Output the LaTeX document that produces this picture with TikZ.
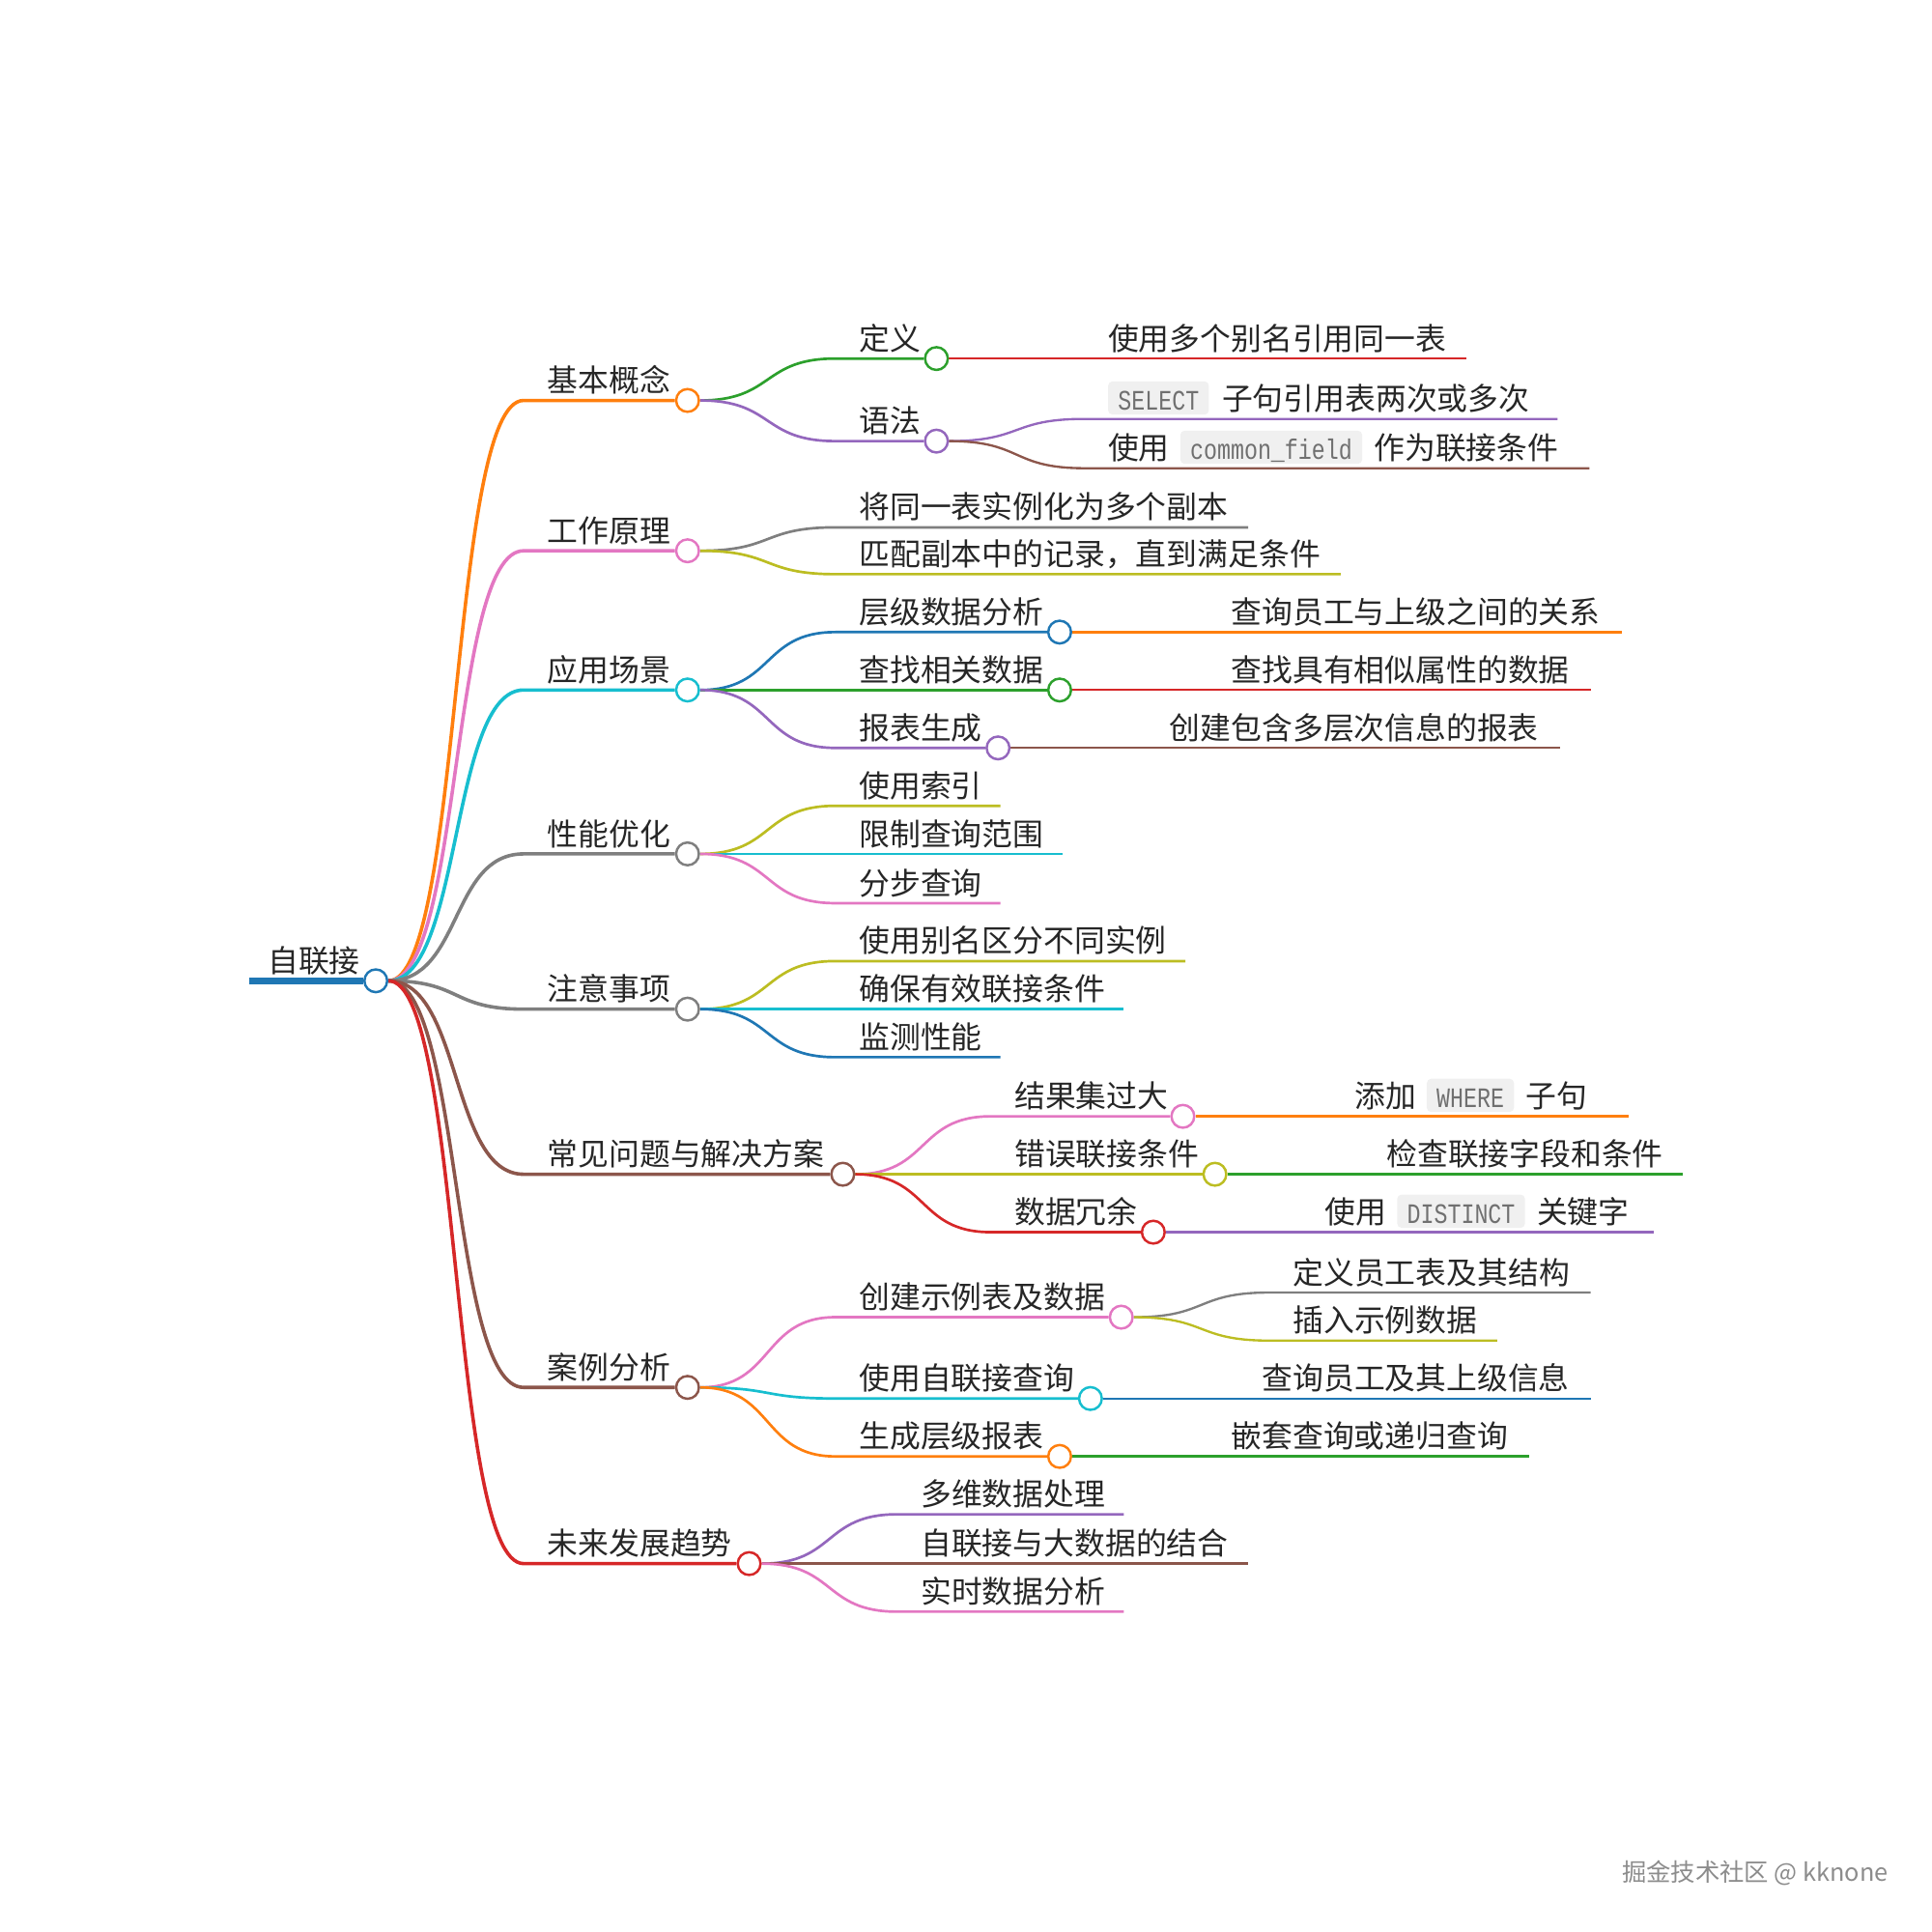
\documentclass[tikz,border=0pt]{standalone}
\usepackage{fontspec}
\setmainfont{Noto Sans CJK SC}
\newfontfamily\codefont[FakeStretch=0.8]{Liberation Mono}
\usetikzlibrary{positioning,backgrounds}
\definecolor{mBlue}{HTML}{1F77B4}
\definecolor{mOrange}{HTML}{FF7F0E}
\definecolor{mGreen}{HTML}{2CA02C}
\definecolor{mRed}{HTML}{D62728}
\definecolor{mPurple}{HTML}{9467BD}
\definecolor{mBrown}{HTML}{8C564B}
\definecolor{mPink}{HTML}{E377C2}
\definecolor{mGray}{HTML}{7F7F7F}
\definecolor{mOlive}{HTML}{BCBD22}
\definecolor{mCyan}{HTML}{17BECF}
\definecolor{codebg}{HTML}{F0F0F0}
\definecolor{codetext}{HTML}{707070}
\newcommand{\mmfont}{\fontsize{14.2pt}{17pt}\selectfont}
\newcommand{\cdfont}{\codefont\fontsize{13pt}{15pt}\selectfont}
\tikzset{
  lbl/.style={inner sep=0pt,anchor=base west,font=\mmfont,text=black!85},
  codebox/.style={anchor=base west,inner xsep=0.16cm,inner ysep=0.07cm,text height=0.40cm,
                  text depth=0cm,fill=codebg,rounded corners=2pt,text=codetext,font=\cdfont},
  mmdot/.style={circle,draw=#1,fill=white,line width=1.1pt,inner sep=0pt,minimum size=0.37cm},
  lvzero/.style={line width=2.9pt},
  lvone/.style={line width=1.6pt},
  lvtwo/.style={line width=1.2pt},
  lvthree/.style={line width=1.05pt}
}

\begin{document}
\begin{tikzpicture}[x=0.02cm,y=-0.02cm]
    \useasboundingbox (0,0) rectangle (1568,1568);
    \coordinate (zl-s) at (202,796);
    \node[lbl] (zl) at (217,789) {自联接};
    \node[mmdot=mBlue] (zl-c) at (305,796) {};
    % level 1
    \coordinate (jb-s) at (425,325); \node[lbl] (jb) at (444,318) {基本概念}; \node[mmdot=mOrange] (jb-c) at (558,325) {};
    \coordinate (gz-s) at (425,447); \node[lbl] (gz) at (444,440) {工作原理}; \node[mmdot=mPink] (gz-c) at (558,447) {};
    \coordinate (yy-s) at (425,560); \node[lbl] (yy) at (444,553) {应用场景}; \node[mmdot=mCyan] (yy-c) at (558,560) {};
    \coordinate (xn-s) at (425,693); \node[lbl] (xn) at (444,686) {性能优化}; \node[mmdot=mGray] (xn-c) at (558,693) {};
    \coordinate (zy-s) at (425,819); \node[lbl] (zy) at (444,812) {注意事项}; \node[mmdot=mGray] (zy-c) at (558,819) {};
    \coordinate (cj-s) at (425,953); \node[lbl] (cj) at (444,946) {常见问题与解决方案}; \node[mmdot=mBrown] (cj-c) at (684,953) {};
    \coordinate (al-s) at (425,1126); \node[lbl] (al) at (444,1119) {案例分析}; \node[mmdot=mBrown] (al-c) at (558,1126) {};
    \coordinate (wl-s) at (425,1269); \node[lbl] (wl) at (444,1262) {未来发展趋势}; \node[mmdot=mRed] (wl-c) at (608,1269) {};
    % level 2
    \coordinate (dy-s) at (678,291); \node[lbl] (dy) at (697,284) {定义}; \node[mmdot=mGreen] (dy-c) at (760,291) {};
    \coordinate (yf-s) at (678,358); \node[lbl] (yf) at (697,351) {语法}; \node[mmdot=mPurple] (yf-c) at (760,358) {};
    \coordinate (gz1-s) at (678,428); \node[lbl] (gz1) at (697,421) {将同一表实例化为多个副本}; \coordinate (gz1-e) at (1013,428);
    \coordinate (gz2-s) at (678,466); \node[lbl] (gz2) at (697,459) {匹配副本中的记录，直到满足条件}; \coordinate (gz2-e) at (1088,466);
    \coordinate (yy1-s) at (678,513); \node[lbl] (yy1) at (697,506) {层级数据分析}; \node[mmdot=mBlue] (yy1-c) at (860,513) {};
    \coordinate (yy2-s) at (678,560); \node[lbl] (yy2) at (697,553) {查找相关数据}; \node[mmdot=mGreen] (yy2-c) at (860,560) {};
    \coordinate (yy3-s) at (678,607); \node[lbl] (yy3) at (697,600) {报表生成}; \node[mmdot=mPurple] (yy3-c) at (810,607) {};
    \coordinate (xn1-s) at (678,654); \node[lbl] (xn1) at (697,647) {使用索引}; \coordinate (xn1-e) at (812,654);
    \coordinate (xn2-s) at (678,693); \node[lbl] (xn2) at (697,686) {限制查询范围}; \coordinate (xn2-e) at (862,693);
    \coordinate (xn3-s) at (678,733); \node[lbl] (xn3) at (697,726) {分步查询}; \coordinate (xn3-e) at (812,733);
    \coordinate (zy1-s) at (678,780); \node[lbl] (zy1) at (697,773) {使用别名区分不同实例}; \coordinate (zy1-e) at (962,780);
    \coordinate (zy2-s) at (678,819); \node[lbl] (zy2) at (697,812) {确保有效联接条件}; \coordinate (zy2-e) at (912,819);
    \coordinate (zy3-s) at (678,858); \node[lbl] (zy3) at (697,851) {监测性能}; \coordinate (zy3-e) at (812,858);
    \coordinate (cj1-s) at (804,906); \node[lbl] (cj1) at (823,899) {结果集过大}; \node[mmdot=mPink] (cj1-c) at (960,906) {};
    \coordinate (cj2-s) at (804,953); \node[lbl] (cj2) at (823,946) {错误联接条件}; \node[mmdot=mOlive] (cj2-c) at (986,953) {};
    \coordinate (cj3-s) at (804,1000); \node[lbl] (cj3) at (823,993) {数据冗余}; \node[mmdot=mRed] (cj3-c) at (936,1000) {};
    \coordinate (al1-s) at (678,1069); \node[lbl] (al1) at (697,1062) {创建示例表及数据}; \node[mmdot=mPink] (al1-c) at (910,1069) {};
    \coordinate (al2-s) at (678,1135); \node[lbl] (al2) at (697,1128) {使用自联接查询}; \node[mmdot=mCyan] (al2-c) at (885,1135) {};
    \coordinate (al3-s) at (678,1182); \node[lbl] (al3) at (697,1175) {生成层级报表}; \node[mmdot=mOrange] (al3-c) at (860,1182) {};
    \coordinate (wl1-s) at (728,1229); \node[lbl] (wl1) at (747,1222) {多维数据处理}; \coordinate (wl1-e) at (912,1229);
    \coordinate (wl2-s) at (728,1269); \node[lbl] (wl2) at (747,1262) {自联接与大数据的结合}; \coordinate (wl2-e) at (1013,1269);
    \coordinate (wl3-s) at (728,1308); \node[lbl] (wl3) at (747,1301) {实时数据分析}; \coordinate (wl3-e) at (912,1308);
    % level 3
    \coordinate (dy1-s) at (880,291); \node[lbl] (dy1) at (899,284) {使用多个别名引用同一表}; \coordinate (dy1-e) at (1190,291);
    \coordinate (yf1-s) at (880,340); \node[codebox] (yf1a) at (899,333) {SELECT};
    \node[lbl,base right=0.2cm of yf1a] (yf1) {子句引用表两次或多次}; \coordinate (yf1-e) at (1264,340);
    \coordinate (yf2-s) at (880,380); \node[lbl] (yf2a) at (899,373) {使用};
    \node[codebox,base right=0.16cm of yf2a] (yf2b) {common\_field};
    \node[lbl,base right=0.18cm of yf2b] (yf2) {作为联接条件}; \coordinate (yf2-e) at (1290,380);
    \coordinate (yy11-s) at (980,513); \node[lbl] (yy11) at (999,506) {查询员工与上级之间的关系}; \coordinate (yy11-e) at (1316,513);
    \coordinate (yy21-s) at (980,560); \node[lbl] (yy21) at (999,553) {查找具有相似属性的数据}; \coordinate (yy21-e) at (1291,560);
    \coordinate (yy31-s) at (930,607); \node[lbl] (yy31) at (949,600) {创建包含多层次信息的报表}; \coordinate (yy31-e) at (1266,607);
    \coordinate (cj11-s) at (1080,906); \node[lbl] (cj11a) at (1099,899) {添加};
    \node[codebox,base right=0.16cm of cj11a] (cj11b) {WHERE};
    \node[lbl,base right=0.18cm of cj11b] (cj11) {子句}; \coordinate (cj11-e) at (1322,906);
    \coordinate (cj21-s) at (1106,953); \node[lbl] (cj21) at (1125,946) {检查联接字段和条件}; \coordinate (cj21-e) at (1366,953);
    \coordinate (cj31-s) at (1056,1000); \node[lbl] (cj31a) at (1075,993) {使用};
    \node[codebox,base right=0.16cm of cj31a] (cj31b) {DISTINCT};
    \node[lbl,base right=0.18cm of cj31b] (cj31) {关键字}; \coordinate (cj31-e) at (1342,1000);
    \coordinate (al11-s) at (1030,1049); \node[lbl] (al11) at (1049,1042) {定义员工表及其结构}; \coordinate (al11-e) at (1291,1049);
    \coordinate (al12-s) at (1030,1088); \node[lbl] (al12) at (1049,1081) {插入示例数据}; \coordinate (al12-e) at (1215,1088);
    \coordinate (al21-s) at (1005,1135); \node[lbl] (al21) at (1024,1128) {查询员工及其上级信息}; \coordinate (al21-e) at (1291,1135);
    \coordinate (al31-s) at (980,1182); \node[lbl] (al31) at (999,1175) {嵌套查询或递归查询}; \coordinate (al31-e) at (1241,1182);
    \node[anchor=base west,inner sep=0pt,font=\fontsize{11.3pt}{13pt}\selectfont,text=black!45] (wm) at (1316,1527) {掘金技术社区 @ kknone};
    \begin{pgfonlayer}{background}
      \draw[mBlue,lvzero] (zl-s) -- (zl-c);
      \draw[mOrange,lvone] (zl-c.east) .. controls +(60,0) and +(-60,0) .. (jb-s) -- (jb-c);
      \draw[mPink,lvone] (zl-c.east) .. controls +(60,0) and +(-60,0) .. (gz-s) -- (gz-c);
      \draw[mCyan,lvone] (zl-c.east) .. controls +(60,0) and +(-60,0) .. (yy-s) -- (yy-c);
      \draw[mGray,lvone] (zl-c.east) .. controls +(60,0) and +(-60,0) .. (xn-s) -- (xn-c);
      \draw[mGray,lvone] (zl-c.east) .. controls +(60,0) and +(-60,0) .. (zy-s) -- (zy-c);
      \draw[mBrown,lvone] (zl-c.east) .. controls +(60,0) and +(-60,0) .. (cj-s) -- (cj-c);
      \draw[mBrown,lvone] (zl-c.east) .. controls +(60,0) and +(-60,0) .. (al-s) -- (al-c);
      \draw[mRed,lvone] (zl-c.east) .. controls +(60,0) and +(-60,0) .. (wl-s) -- (wl-c);
      \draw[mGreen,lvtwo] (jb-c.east) .. controls +(60,0) and +(-60,0) .. (dy-s) -- (dy-c);
      \draw[mPurple,lvtwo] (jb-c.east) .. controls +(60,0) and +(-60,0) .. (yf-s) -- (yf-c);
      \draw[mGray,lvtwo] (gz-c.east) .. controls +(60,0) and +(-60,0) .. (gz1-s) -- (gz1-e);
      \draw[mOlive,lvtwo] (gz-c.east) .. controls +(60,0) and +(-60,0) .. (gz2-s) -- (gz2-e);
      \draw[mBlue,lvtwo] (yy-c.east) .. controls +(60,0) and +(-60,0) .. (yy1-s) -- (yy1-c);
      \draw[mGreen,lvtwo] (yy-c.east) .. controls +(60,0) and +(-60,0) .. (yy2-s) -- (yy2-c);
      \draw[mPurple,lvtwo] (yy-c.east) .. controls +(60,0) and +(-60,0) .. (yy3-s) -- (yy3-c);
      \draw[mOlive,lvtwo] (xn-c.east) .. controls +(60,0) and +(-60,0) .. (xn1-s) -- (xn1-e);
      \draw[mCyan,lvtwo] (xn-c.east) .. controls +(60,0) and +(-60,0) .. (xn2-s) -- (xn2-e);
      \draw[mPink,lvtwo] (xn-c.east) .. controls +(60,0) and +(-60,0) .. (xn3-s) -- (xn3-e);
      \draw[mOlive,lvtwo] (zy-c.east) .. controls +(60,0) and +(-60,0) .. (zy1-s) -- (zy1-e);
      \draw[mCyan,lvtwo] (zy-c.east) .. controls +(60,0) and +(-60,0) .. (zy2-s) -- (zy2-e);
      \draw[mBlue,lvtwo] (zy-c.east) .. controls +(60,0) and +(-60,0) .. (zy3-s) -- (zy3-e);
      \draw[mPink,lvtwo] (cj-c.east) .. controls +(60,0) and +(-60,0) .. (cj1-s) -- (cj1-c);
      \draw[mOlive,lvtwo] (cj-c.east) .. controls +(60,0) and +(-60,0) .. (cj2-s) -- (cj2-c);
      \draw[mRed,lvtwo] (cj-c.east) .. controls +(60,0) and +(-60,0) .. (cj3-s) -- (cj3-c);
      \draw[mPink,lvtwo] (al-c.east) .. controls +(60,0) and +(-60,0) .. (al1-s) -- (al1-c);
      \draw[mCyan,lvtwo] (al-c.east) .. controls +(60,0) and +(-60,0) .. (al2-s) -- (al2-c);
      \draw[mOrange,lvtwo] (al-c.east) .. controls +(60,0) and +(-60,0) .. (al3-s) -- (al3-c);
      \draw[mPurple,lvtwo] (wl-c.east) .. controls +(60,0) and +(-60,0) .. (wl1-s) -- (wl1-e);
      \draw[mBrown,lvtwo] (wl-c.east) .. controls +(60,0) and +(-60,0) .. (wl2-s) -- (wl2-e);
      \draw[mPink,lvtwo] (wl-c.east) .. controls +(60,0) and +(-60,0) .. (wl3-s) -- (wl3-e);
      \draw[mRed,lvthree] (dy-c.east) .. controls +(60,0) and +(-60,0) .. (dy1-s) -- (dy1-e);
      \draw[mPurple,lvthree] (yf-c.east) .. controls +(60,0) and +(-60,0) .. (yf1-s) -- (yf1-e);
      \draw[mBrown,lvthree] (yf-c.east) .. controls +(60,0) and +(-60,0) .. (yf2-s) -- (yf2-e);
      \draw[mOrange,lvthree] (yy1-c.east) .. controls +(60,0) and +(-60,0) .. (yy11-s) -- (yy11-e);
      \draw[mRed,lvthree] (yy2-c.east) .. controls +(60,0) and +(-60,0) .. (yy21-s) -- (yy21-e);
      \draw[mBrown,lvthree] (yy3-c.east) .. controls +(60,0) and +(-60,0) .. (yy31-s) -- (yy31-e);
      \draw[mOrange,lvthree] (cj1-c.east) .. controls +(60,0) and +(-60,0) .. (cj11-s) -- (cj11-e);
      \draw[mGreen,lvthree] (cj2-c.east) .. controls +(60,0) and +(-60,0) .. (cj21-s) -- (cj21-e);
      \draw[mPurple,lvthree] (cj3-c.east) .. controls +(60,0) and +(-60,0) .. (cj31-s) -- (cj31-e);
      \draw[mGray,lvthree] (al1-c.east) .. controls +(60,0) and +(-60,0) .. (al11-s) -- (al11-e);
      \draw[mOlive,lvthree] (al1-c.east) .. controls +(60,0) and +(-60,0) .. (al12-s) -- (al12-e);
      \draw[mBlue,lvthree] (al2-c.east) .. controls +(60,0) and +(-60,0) .. (al21-s) -- (al21-e);
      \draw[mGreen,lvthree] (al3-c.east) .. controls +(60,0) and +(-60,0) .. (al31-s) -- (al31-e);
    \end{pgfonlayer}
  \end{tikzpicture}
\end{document}
